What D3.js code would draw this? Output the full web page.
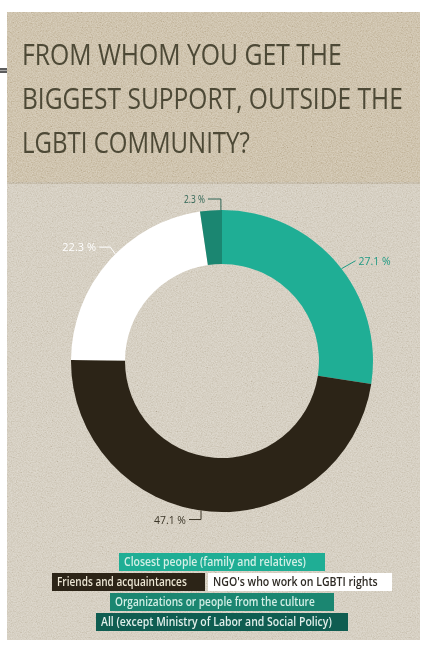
<!DOCTYPE html>
<html>
<head>
<meta charset="utf-8">
<script src="https://cdn.jsdelivr.net/npm/d3@7"></script>
<style>
  html, body { margin: 0; padding: 0; background: #ffffff; }
  svg { display: block; }
</style>
</head>
<body>
<svg id="chart" width="422" height="646"></svg>
<script>
// ---- data ----
const titleLines = ["FROM WHOM YOU GET THE", "BIGGEST SUPPORT, OUTSIDE THE", "LGBTI COMMUNITY?"];
const categories = [
  "Closest people (family and relatives)",
  "Friends and acquaintances",
  "NGO's who work on LGBTI rights",
  "Organizations or people from the culture",
  "All (except Ministry of Labor and Social Policy)"
];
const shares = [27.1, 47.1, 22.3, 2.3];          // percent, first four categories
const valueLabels = ["27.1 %", "47.1 %", "22.3 %", "2.3 %"];
const colors = ["#1fae95", "#2c2417", "#ffffff", "#1b8671", "#0f5d51"];

// ---- layout / style ----
const panel = { x: 7, y: 12, w: 413, h: 628, bandH: 170 };
const cx = 222, cy = 361, rOuter = 151, rInner = 97;

const svg = d3.select("#chart");
const defs = svg.append("defs");

// draws a text inside a group and squeezes it horizontally to a given width
function fitText(parent, x, y, width, anchor, str, attrs) {
  const grp = parent.append("g");
  const t = grp.append("text").text(str);
  Object.entries(attrs).forEach(([k, v]) => t.attr(k, v));
  const natural = t.node().getComputedTextLength();
  const sx = Math.min(1, width / natural);
  const left = anchor === "end" ? x - width : x;
  grp.attr("transform", `translate(${left},${y}) scale(${sx},1)`);
  return grp;
}

// paper grain
const f = defs.append("filter").attr("id", "grain")
  .attr("x", 0).attr("y", 0).attr("width", "100%").attr("height", "100%");
f.append("feTurbulence").attr("type", "fractalNoise").attr("baseFrequency", 0.8)
  .attr("numOctaves", 3).attr("seed", 7).attr("result", "n");
f.append("feColorMatrix").attr("in", "n").attr("type", "matrix")
  .attr("values", "1 0 0 0 0  1 0 0 0 0  1 0 0 0 0  0 0 0 0 1");

// background panels
svg.append("rect").attr("x", panel.x).attr("y", panel.y)
  .attr("width", panel.w).attr("height", panel.h).attr("fill", "#cbc3b3");
svg.append("rect").attr("x", panel.x).attr("y", panel.y)
  .attr("width", panel.w).attr("height", panel.bandH).attr("fill", "#c2b49a");
svg.append("rect").attr("x", panel.x).attr("y", panel.y + panel.bandH)
  .attr("width", panel.w).attr("height", 2).attr("fill", "#b3a891").attr("opacity", 0.8);
svg.append("rect").attr("x", panel.x).attr("y", panel.y)
  .attr("width", panel.w).attr("height", panel.h)
  .attr("filter", "url(#grain)").style("mix-blend-mode", "soft-light").attr("opacity", 1);

// small rule at the left margin
svg.append("rect").attr("x", 0).attr("y", 68).attr("width", panel.x).attr("height", 5).attr("fill", "#5d5d5d");
svg.append("rect").attr("x", 0).attr("y", 70).attr("width", panel.x).attr("height", 1).attr("fill", "#a9a9a9");

// title
const titleLen = [320, 381, 228];
const titleG = svg.append("g");
titleLines.forEach((line, i) => {
  fitText(titleG, 22, 65 + i * 44, titleLen[i], "start", line, {
    "font-family": "'Open Sans', sans-serif", "font-weight": 400,
    "font-size": 30, "fill": "#4d4936"
  });
});

// donut
const pie = d3.pie().sort(null).value(d => d);
const arcs = pie(shares);
const arc = d3.arc().innerRadius(rInner).outerRadius(rOuter);
const g = svg.append("g").attr("transform", `translate(${cx},${cy})`);
g.selectAll("path").data(arcs).join("path")
  .attr("d", arc)
  .attr("fill", (d, i) => colors[i]);

// value labels with leader lines
const labelCfg = [
  { t: 0.53, pts: [[14, -8]], anchor: "start", dx: 3, dy: 4, color: "#1f9a83", len: 32 },
  { t: 0.52, pts: [[0, 9], [-12, 9]], anchor: "end", dx: -3, dy: 4, color: "#3b3527", len: 32 },
  { t: 0.55, pts: [[-5, -7], [-16, -7]], anchor: "end", dx: -3, dy: 4, color: "#ffffff", len: 34 },
  { t: 0.95, pts: [[0, -11], [-13, -11]], anchor: "end", dx: -3, dy: 4, color: "#2f6555", len: 21 }
];
const lab = svg.append("g");
arcs.forEach((a, i) => {
  const c = labelCfg[i];
  const ang = a.startAngle + c.t * (a.endAngle - a.startAngle);
  const px = cx + rOuter * Math.sin(ang), py = cy - rOuter * Math.cos(ang);
  const pts = [[px, py]].concat(c.pts.map(p => [px + p[0], py + p[1]]));
  lab.append("path").attr("d", d3.line()(pts))
    .attr("fill", "none").attr("stroke", c.color).attr("stroke-width", 1);
  const end = pts[pts.length - 1];
  fitText(lab, end[0] + c.dx, end[1] + c.dy, c.len, c.anchor, valueLabels[i], {
    "font-family": "'Open Sans', sans-serif", "font-size": 11, "fill": c.color
  });
});

// legend
const legendRows = [[0], [1, 2], [3], [4]];
const boxW = [206, 153, 184, 224, 252];
const textLen = [182, 130, 165, 200, 231];
const textColor = ["#d3efe6", "#ece6d4", "#2e2a24", "#d3efe6", "#e1efea"];
const boxH = 18, rowGap = 2, colGap = 3, legendTop = 553;
const leg = svg.append("g");
legendRows.forEach((row, r) => {
  const total = d3.sum(row, i => boxW[i]) + colGap * (row.length - 1);
  let x = cx - total / 2;
  const y = legendTop + r * (boxH + rowGap);
  row.forEach(i => {
    leg.append("rect").attr("x", x).attr("y", y)
      .attr("width", boxW[i]).attr("height", boxH).attr("fill", colors[i]);
    fitText(leg, x + 5, y + 13, textLen[i], "start", categories[i], {
      "font-family": "'Open Sans', sans-serif", "font-size": 12.5,
      "font-weight": 600, "fill": textColor[i]
    });
    x += boxW[i] + colGap;
  });
});
</script>
</body>
</html>
